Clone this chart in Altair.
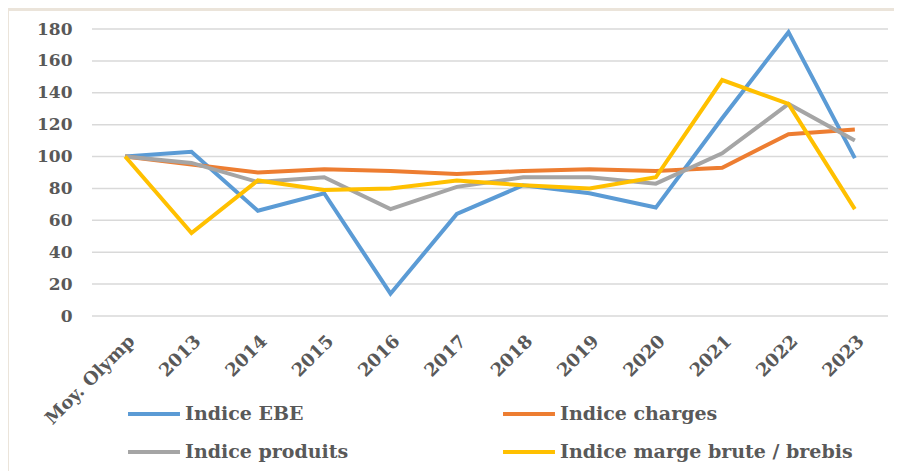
import altair as alt
import pandas as pd

categories = ["Moy. Olymp", "2013", "2014", "2015", "2016", "2017", "2018",
              "2019", "2020", "2021", "2022", "2023"]
series_names = ["Indice EBE", "Indice charges", "Indice produits",
                "Indice marge brute / brebis"]
ebe = [100, 103, 66, 77, 14, 64, 82, 77, 68, 124, 178, 99]
charges = [100, 95, 90, 92, 91, 89, 91, 92, 91, 93, 114, 117]
produits = [100, 96, 84, 87, 67, 81, 87, 87, 83, 102, 133, 110]
marge = [100, 52, 85, 79, 80, 85, 82, 80, 87, 148, 133, 67]
y_ticks = [0, 20, 40, 60, 80, 100, 120, 140, 160, 180]
colors = ["#5b9bd5", "#ed7d31", "#a5a5a5", "#ffc000"]

rows = []
for name, vals in zip(series_names, [ebe, charges, produits, marge]):
    for c, v in zip(categories, vals):
        rows.append({"cat": c, "val": v, "serie": name})
df = pd.DataFrame(rows)
grid_df = pd.DataFrame({"val": y_ticks})

FONT = "DejaVu Serif"
W, H = 796, 287

yscale = alt.Scale(domain=[0, 180], nice=False)
y_axis = alt.Axis(values=y_ticks, labelFont=FONT,
                  labelFontSize=17, labelFontWeight="bold",
                  labelColor="#595959", ticks=False, domain=False,
                  labelOverlap=False, labelFlush=False,
                  labelPadding=20, grid=False, zindex=1)

panel = alt.Chart(pd.DataFrame({"a": [0]})).mark_rect(color="white").encode(
    x=alt.value(-83), x2=alt.value(W + 20), y=alt.value(-18), y2=alt.value(H + 200)
)

grid = alt.Chart(grid_df).mark_rule(color="#d9d9d9", strokeWidth=1.5).encode(
    y=alt.Y("val:Q", scale=yscale, title=None, axis=y_axis)
)

lines = alt.Chart(df).mark_line(strokeWidth=4).encode(
    x=alt.X("cat:N", sort=categories, title=None,
            scale=alt.Scale(type="point", padding=0.5),
            axis=alt.Axis(labelAngle=-45, labelAlign="right", labelBaseline="top",
                          labelFont=FONT, labelFontSize=18, labelFontWeight="bold",
                          labelColor="#595959", ticks=False, domain=False,
                          labelPadding=16, grid=False, labelOverlap=False, zindex=1)),
    y=alt.Y("val:Q", title=None, scale=yscale, axis=y_axis),
    color=alt.Color("serie:N", sort=series_names,
                    scale=alt.Scale(domain=series_names, range=colors),
                    legend=alt.Legend(title=None, orient="none", legendX=34,
                                      legendY=357, columns=2, columnPadding=146,
                                      direction="horizontal",
                                      rowPadding=-14, symbolType="stroke",
                                      symbolSize=2700, symbolStrokeWidth=4,
                                      labelFont=FONT, labelFontSize=19,
                                      labelFontWeight="bold", labelColor="#595959",
                                      labelOffset=3, labelLimit=400, zindex=1)),
    order=alt.Order("serie:N")
)

chart = alt.layer(panel, grid, lines).properties(
    width=W, height=H,
    autosize=alt.AutoSizeParams(type="none"),
    padding={"left": 84, "top": 21, "right": 6, "bottom": 155},
    background="#ebe4da"
).configure_view(stroke=None)

chart.save("out.html", embed_options={"renderer": "svg", "actions": False})
